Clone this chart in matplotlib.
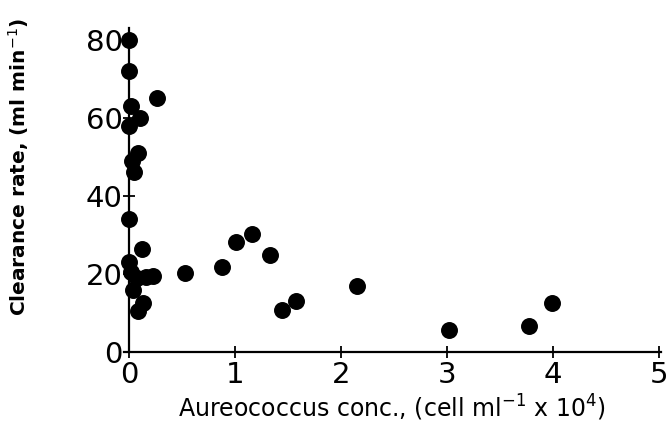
import numpy as np
import matplotlib.pyplot as plt

# Aureococcus concentration (x 10^4 cells/ml) and clearance rate (ml/min)
conc = [0.0, 0.0, 0.02, 0.1, 0.0, 0.26, 0.09, 0.05, 0.03, 0.0, 0.12, 0.0,
        0.02, 0.08, 0.16, 0.23, 0.04, 0.13, 0.09,
        0.53, 0.88, 1.01, 1.16, 1.33, 1.44, 1.58, 2.15, 3.02, 3.77, 3.99]
rate = [80, 72, 63, 60, 58, 65, 51, 46, 49, 34, 26.5, 23,
        20.5, 19, 19.2, 19.5, 16, 12.5, 10.5,
        20.3, 21.8, 28.2, 30.2, 24.9, 10.8, 13.0, 17.0, 5.6, 6.7, 12.6]

xticks = [0, 1, 2, 3, 4, 5]
yticks = [0, 20, 40, 60, 80]

fig = plt.figure(figsize=(6.72, 4.45), dpi=100)
ax = fig.add_axes([0.184, 0.209, 0.800, 0.728])

ax.scatter(conc, rate, s=125, color='black', zorder=3, clip_on=False)

ax.set_xlim(-0.05, 5.02)
ax.set_ylim(0, 83)
ax.set_xticks(xticks)
ax.set_yticks(yticks)

for s in ['top', 'right']:
    ax.spines[s].set_visible(False)
ax.spines['left'].set_position(('data', 0))
for s in ['left', 'bottom']:
    ax.spines[s].set_linewidth(1.6)

ax.tick_params(direction='inout', length=9, width=1.3, labelsize=21, pad=2)
ax.tick_params(axis='y', pad=0)

ax.set_xlabel('Aureococcus conc., (cell ml$^{-1}$ x 10$^4$)', fontsize=17, labelpad=3)
ax.set_ylabel('Clearance rate, (ml min$^{-1}$)', fontsize=14.5, fontweight='bold')
ax.yaxis.set_label_coords(-0.172, 0.57)

fig.savefig('out.png', dpi=100)
